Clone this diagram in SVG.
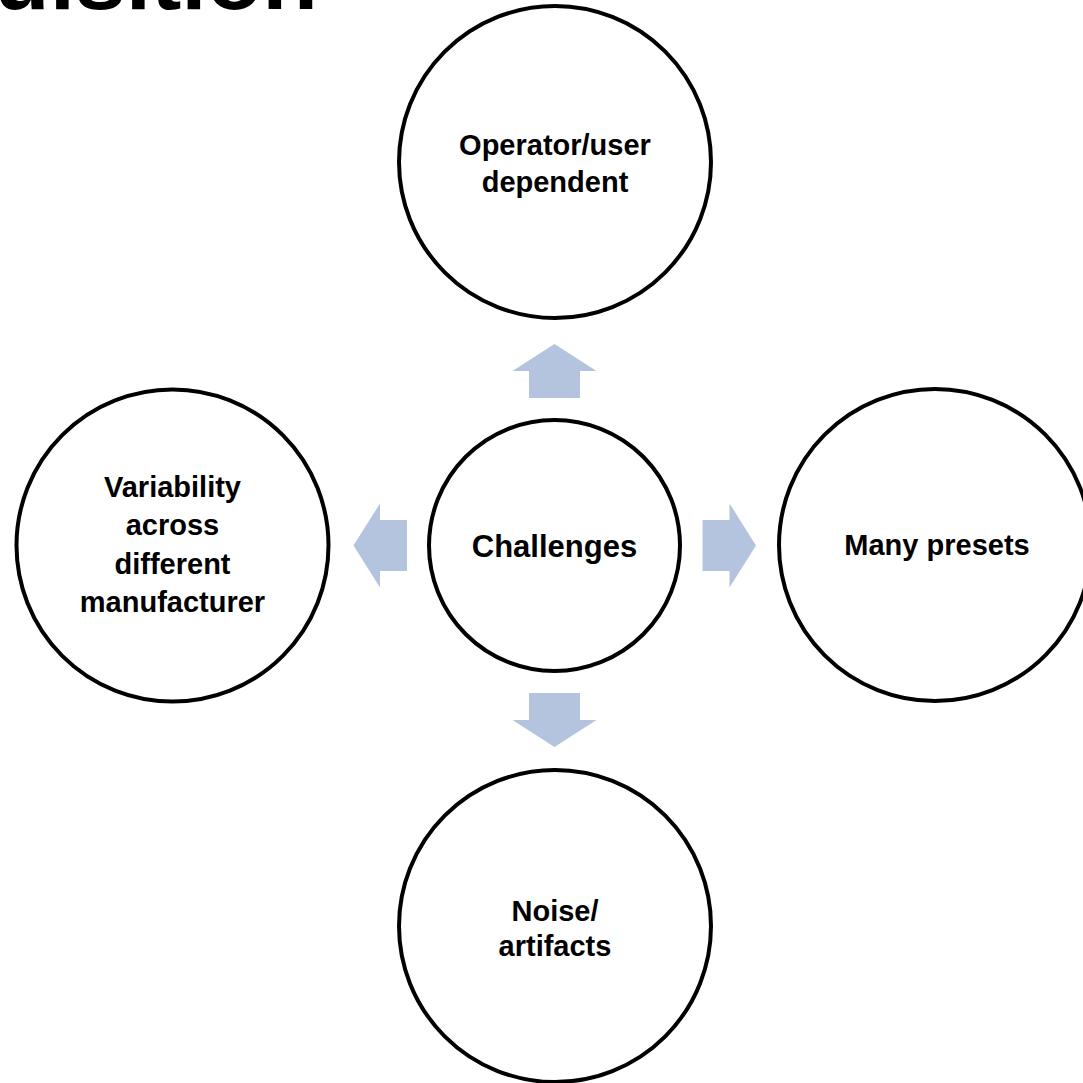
<svg xmlns="http://www.w3.org/2000/svg" width="1083" height="1083" viewBox="0 0 1083 1083">
  <style>
    .node { fill: #ffffff; stroke: #000000; stroke-width: 4; }
    .lbl { font-family: "Liberation Sans", Arial, sans-serif; font-weight: bold; font-size: 29px; fill: #000000; text-anchor: middle; }
    .center { font-size: 31px; }
    .title { font-family: "Liberation Sans", Arial, sans-serif; font-weight: bold; font-size: 88px; fill: #000000; }
    .arrow { fill: #b4c4de; stroke: none; }
  </style>
  <rect width="1083" height="1083" fill="#ffffff"/>
  <text class="title" x="-6" y="9" textLength="324" lengthAdjust="spacingAndGlyphs">uisition</text>
  <g id="connectors">
    <polygon class="arrow" points="554.5,344 596.5,371 580,371 580,398 529,398 529,371 512.5,371"/>
    <polygon class="arrow" points="554.5,747 596.5,720 580,720 580,693 529,693 529,720 512.5,720"/>
    <polygon class="arrow" points="353.5,545.5 380,503.5 380,520 407,520 407,571 380,571 380,587.5"/>
    <polygon class="arrow" points="756,545.5 729.5,503.5 729.5,520 702.5,520 702.5,571 729.5,571 729.5,587.5"/>
  </g>
  <g id="node-top">
    <circle class="node" cx="555" cy="162" r="156"/>
    <text class="lbl" x="555" y="155">Operator/user</text>
    <text class="lbl" x="555" y="192">dependent</text>
  </g>
  <g id="node-left">
    <circle class="node" cx="172.5" cy="545.5" r="156"/>
    <text class="lbl" x="172.5" y="497">Variability</text>
    <text class="lbl" x="172.5" y="535">across</text>
    <text class="lbl" x="172.5" y="573.5">different</text>
    <text class="lbl" x="172.5" y="612">manufacturer</text>
  </g>
  <g id="node-center">
    <circle class="node" cx="554.5" cy="545.5" r="125.5"/>
    <text class="lbl center" x="554.5" y="556.5">Challenges</text>
  </g>
  <g id="node-right">
    <circle class="node" cx="935" cy="545" r="156"/>
    <text class="lbl" x="937" y="555">Many presets</text>
  </g>
  <g id="node-bottom">
    <circle class="node" cx="555" cy="926" r="156"/>
    <text class="lbl" x="555" y="920.5">Noise/</text>
    <text class="lbl" x="555" y="955.5">artifacts</text>
  </g>
</svg>
